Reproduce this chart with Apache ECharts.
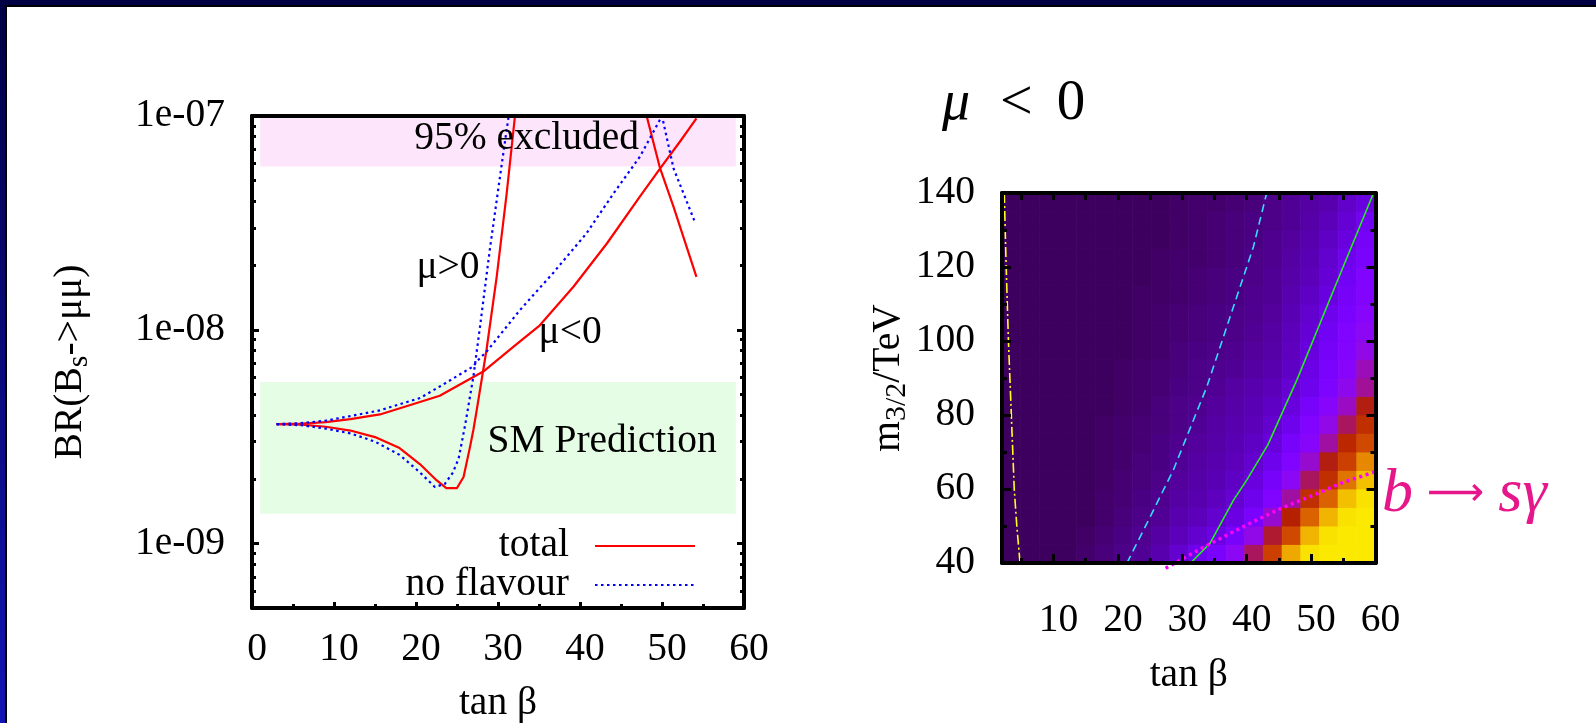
<!DOCTYPE html>
<html><head><meta charset="utf-8">
<script src="https://cdn.jsdelivr.net/npm/echarts@6/dist/echarts.min.js"></script>
<style>html,body{margin:0;padding:0;background:#fff;overflow:hidden}#c{width:1596px;height:723px}</style>
</head><body><div id="c"></div>
<script>
// ---------------- Left panel: BR(Bs->mumu) vs tan beta ----------------
const totalNegTanb = [3, 6, 9, 12, 15.6, 19.7, 22.9, 28.2, 31.9, 35.1, 39.2, 43.3, 47.3, 49.8, 52.2, 54.2];
const totalNegBR   = [3.62e-9, 3.64e-9, 3.7e-9, 3.82e-9, 4.02e-9, 4.5e-9, 4.92e-9, 6.38e-9, 8.35e-9, 1.05e-8, 1.59e-8, 2.54e-8, 4.2e-8, 5.7e-8, 7.6e-8, 9.75e-8];
const totalPosTanb = [3, 6, 9, 12, 15, 18, 20.5, 22.5, 23.7, 25, 25.8, 26.6, 27.0, 27.4, 28.6, 29.84, 31.06, 32.07, 32.5];
const totalPosBR   = [3.62e-9, 3.6e-9, 3.52e-9, 3.38e-9, 3.15e-9, 2.8e-9, 2.35e-9, 1.98e-9, 1.82e-9, 1.82e-9, 2.05e-9, 2.85e-9, 3.41e-9, 4.2e-9, 8.07e-9, 1.77e-8, 4.35e-8, 1.0e-7, 1.3e-7];
const totalHighTanb = [47.8, 49.76, 51.4, 54.2];
const totalHighBR   = [1.12e-7, 5.7e-8, 3.77e-8, 1.77e-8];
const noflavNegTanb = [3, 6, 9, 12, 15.6, 20.5, 22.9, 27, 27.4, 28.6, 32.7, 36.7, 40.8, 44.1, 47.3, 50, 51.4, 54];
const noflavNegBR   = [3.62e-9, 3.66e-9, 3.76e-9, 3.95e-9, 4.2e-9, 4.8e-9, 5.43e-9, 6.75e-9, 7.1e-9, 7.9e-9, 1.24e-8, 1.84e-8, 2.83e-8, 4.35e-8, 6.45e-8, 1.0e-7, 5.7e-8, 3.2e-8];
const noflavPosTanb = [3, 6, 9, 12, 15, 18, 20.5, 22.3, 23.5, 24.5, 25.2, 26.0, 27.0, 27.8, 29.0, 30.24, 31.3, 31.6];
const noflavPosBR   = [3.62e-9, 3.58e-9, 3.45e-9, 3.28e-9, 3.0e-9, 2.6e-9, 2.15e-9, 1.84e-9, 1.9e-9, 2.15e-9, 2.5e-9, 3.6e-9, 6.05e-9, 1.03e-8, 2.37e-8, 5.2e-8, 1.0e-7, 1.2e-7];
const bandTanb   = [1, 59];
const excludedBR = [5.8e-8, 1.0e-7];
const smBR       = [1.38e-9, 5.7e-9];
const leftXTicks = [0, 10, 20, 30, 40, 50, 60];
const leftXMinor = [5, 15, 25, 35, 45, 55];
const brMajor = [1e-9, 1e-8, 1e-7];
const brMinor = [6e-10, 7e-10, 8e-10, 9e-10, 2e-9, 3e-9, 4e-9, 5e-9, 6e-9, 7e-9, 8e-9, 9e-9, 2e-8, 3e-8, 4e-8, 5e-8, 6e-8, 7e-8, 8e-8, 9e-8];

// ---------------- Right panel: heat map m3/2 vs tan beta (mu<0) ----------------
const tanbCenters = [3.45, 6.35, 9.25, 12.15, 15.05, 17.95, 20.85, 23.75, 26.65, 29.55, 32.45, 35.35, 38.25, 41.15, 44.05, 46.95, 49.85, 52.75, 55.65, 58.55];
const m32Centers = [42.5, 47.5, 52.5, 57.5, 62.5, 67.5, 72.5, 77.5, 82.5, 87.5, 92.5, 97.5, 102.5, 107.5, 112.5, 117.5, 122.5, 127.5, 132.5, 137.5];
const heatRow00 = [6,6,6,6,7,8,9,10,12,15, 19,23,30,44,63,87,96,97,97,97];
const heatRow01 = [6,6,6,6,6.5,7.5,8.5,9.5,11,13, 15,17.5,22,32,47,66,89,96,97,97];
const heatRow02 = [6,6,6,6,6,7,8,9,10,12, 13,15,17.5,23,35,50,73,89,96,97];
const heatRow03 = [6,6,6,6,6,7,7.5,8.5,9.5,11, 12,13.5,15.5,19,25,39,57,73,91,96];
const heatRow04 = [6,6,6,6,6,6.5,7.5,8,9,10.5, 11.5,12.5,14,17,22,30,44,57,77,91];
const heatRow05 = [6,6,6,6,6,6.5,7,8,8.5,10, 11,12,13,15,19,25,35,49,63,81];
const heatRow06 = [6,6,6,6,6,6.5,7,7.5,8.5,9.5, 10.5,11.5,12.5,14,16.5,22,28,39,54,66];
const heatRow07 = [6,6,6,6,6,6.5,7,7.5,8,9, 10,11,12,13,15,19,25,32,44,57];
const heatRow08 = [6,6,6,6,6,6,6.5,7,8,9, 9.5,10.5,11.5,12.5,14,17,22,28,36,49];
const heatRow09 = [6,6,6,6,6,6,6.5,7,7.5,8.5, 9,10,11,12,13,15.5,19,24,31,40];
const heatRow10 = [6,6,6,6,6,6,6.5,7,7.5,8, 9,9.5,10,11,12,14,18,23,28,37];
const heatRow11 = [6,6,6,6,6,6,6,6.5,7,8, 8.5,9,9.5,10.5,11.5,13.5,17,21.5,26,32];
const heatRow12 = [6,6,6,6,6,6,6,6.5,7,7.5, 8,8.5,9,10,11,13,16,20,25,30];
const heatRow13 = [6,6,6,6,6,6,6,6.5,7,7.5, 8,8.5,9,9.5,10.5,12.5,15,19,23,28];
const heatRow14 = [6,6,6,6,6,6,6,6.5,6.5,7, 7.5,8,8.5,9.5,10,12,14,17,21.5,26];
const heatRow15 = [6,6,6,6,6,6,6,6,6.5,7, 7.5,8,8.5,9,10,11.5,13,16,20,25];
const heatRow16 = [6,6,6,6,6,6,6,6,6.5,7, 7,7.5,8,9,9.5,11,12.5,15,19,23];
const heatRow17 = [6,6,6,6,6,6,6,6,6,6.5, 7,7.5,8,8.5,9.5,10.5,12,14,17,21.5];
const heatRow18 = [6,6,6,6,6,6,6,6,6,6.5, 7,7.5,8,8.5,9,10,11.5,13,15.5,20];
const heatRow19 = [6,6,6,6,6,6,6,6,6,6.5, 7,7,7.5,8,9,10,11,12,14.5,17];
const heatRows = [heatRow00, heatRow01, heatRow02, heatRow03, heatRow04, heatRow05, heatRow06, heatRow07, heatRow08, heatRow09,
                  heatRow10, heatRow11, heatRow12, heatRow13, heatRow14, heatRow15, heatRow16, heatRow17, heatRow18, heatRow19];
const yellowTanb = [2.35, 2.65, 3.0, 3.45, 3.9, 4.3, 4.8];
const yellowM32  = [140, 120, 100, 80, 60, 50, 40];
const cyanTanb = [21.4, 24.5, 28.6, 33.8, 37.95, 41.05, 43.1];
const cyanM32  = [40, 50.7, 65.1, 87.6, 109.3, 125.5, 140];
const greenTanb = [31.3, 34.3, 37.95, 40, 43.3, 47.8, 53.5, 59.7];
const greenM32  = [40, 45.3, 57, 62.4, 72, 89.5, 113.8, 140];
const bsgTanb = [27.4, 30.2, 35, 40, 45, 50.4, 55, 61.2];
const bsgM32  = [38.6, 41.3, 45.8, 50.3, 54.5, 58.4, 61.8, 65.4];
const rightXTicks = [10, 20, 30, 40, 50, 60];
const rightXMinor = [5, 15, 25, 35, 45, 55];
const rightYTicks = [40, 60, 80, 100, 120, 140];
const rightYMinor = [50, 70, 90, 110, 130];

// ---------------- build ----------------
const F = "'Liberation Serif', 'Times New Roman', serif";
const FS = 39.5;
const zip = (xs, ys) => xs.map((x, i) => [x, ys[i]]);
function gp(p) { // gnuplot default pm3d palette (rgbformulae 7,5,15)
  const r = Math.round(255 * Math.sqrt(p)), g = Math.round(255 * p * p * p), b = Math.round(255 * Math.max(0, Math.sin(2 * Math.PI * p)));
  return 'rgb(' + r + ',' + g + ',' + b + ')';
}
const palette = []; for (let i = 0; i <= 40; i++) palette.push(gp(i / 40));
const heatData = [];
heatRows.forEach((row, j) => row.forEach((v, i) => heatData.push([tanbCenters[i], m32Centers[j], v])));
const cellW = tanbCenters[1] - tanbCenters[0], cellH = m32Centers[1] - m32Centers[0];
const fmtExp = v => { const e = Math.round(Math.log10(v)); return '1e-' + String(-e).padStart(2, '0'); };

const black = '#000';
const lineOn = { show: true, onZero: false, lineStyle: { color: black, width: 4 } };
const lineOff = { show: false, onZero: false };
const tick = (vals, len) => ({ show: true, inside: true, length: len, customValues: vals, lineStyle: { color: black, width: 3 } });
const noLabel = { show: false };
const labelStyle = { color: black, fontFamily: F, fontSize: FS, fontWeight: 'normal' };
const subRich = { a: { fontFamily: F, fontSize: FS, color: black }, s: { fontFamily: F, fontSize: 30, color: black, padding: [17, 0, 0, 0] } };

const red = '#ff0000', blue = '#0000ff', pink = '#e6178a';
function curve(name, xs, ys, color, dotted) {
  return { type: 'line', name, xAxisIndex: 0, yAxisIndex: 0, data: zip(xs, ys), symbol: 'none', showSymbol: false,
    clip: true, silent: true, z: 3, itemStyle: { color },
    lineStyle: { color, width: 2.2, type: dotted ? [2.5, 3.5] : 'solid', cap: 'butt', join: 'round' } };
}
const legendBase = { orient: 'vertical', align: 'right', right: 900, padding: 0, itemWidth: 100, itemHeight: 40,
  selectedMode: false, itemStyle: { opacity: 0 }, textStyle: { color: black, fontFamily: F, fontSize: FS, padding: [0, 21, 0, 0] } };

const option = {
  animation: false,
  textStyle: { fontFamily: F },
  title: { text: '{i|μ}{g|<}{h|0}', left: 942, top: 75, padding: 0,
    textStyle: { fontWeight: 'normal', rich: {
      i: { fontFamily: F, fontSize: 56, fontStyle: 'italic', fontWeight: 'normal', color: black },
      g: { fontFamily: F, fontSize: 58, fontWeight: 'normal', color: black, padding: [0, 0, 0, 30] },
      h: { fontFamily: F, fontSize: 57, fontWeight: 'normal', color: black, padding: [0, 0, 0, 24] } } } },
  graphic: [
    { type: 'rect', shape: { x: 0, y: 0, width: 1596, height: 5 }, style: { fill: '#000044' }, z: 100 },
    { type: 'rect', shape: { x: 0, y: 5, width: 1596, height: 2 }, style: { fill: '#000' }, z: 100 },
    { type: 'rect', shape: { x: 0, y: 0, width: 5, height: 723 }, z: 100,
      style: { fill: new echarts.graphic.LinearGradient(0, 0, 0, 1, [{ offset: 0, color: '#000044' }, { offset: 1, color: '#1414b4' }]) } },
    { type: 'rect', shape: { x: 5, y: 5, width: 2, height: 718 }, style: { fill: '#000' }, z: 100 }
  ],
  grid: [
    { left: 252, top: 116, width: 492, height: 492, outerBoundsMode: 'none' },
    { left: 1002, top: 193, width: 373.5, height: 370, outerBoundsMode: 'none' }
  ],
  legend: [
    Object.assign({ data: ['total'], top: 526 }, legendBase),
    Object.assign({ data: ['no flavour'], top: 565 }, legendBase)
  ],
  visualMap: { type: 'continuous', show: false, min: 0, max: 100, dimension: 2, seriesIndex: 5, inRange: { color: palette } },
  xAxis: [
    { type: 'value', gridIndex: 0, min: 0, max: 60, position: 'bottom', z: 5, axisLine: lineOn, splitLine: { show: false },
      axisTick: tick(leftXTicks, 6), axisLabel: Object.assign({ customValues: leftXTicks, margin: 22, padding: [0, 0, 0, 10] }, labelStyle),
      name: 'tan β', nameLocation: 'middle', nameGap: 76, nameTextStyle: labelStyle },
    { type: 'value', gridIndex: 0, min: 0, max: 60, position: 'bottom', z: 5, axisLine: lineOff, splitLine: { show: false },
      axisTick: tick(leftXMinor, 4), axisLabel: noLabel },
    { type: 'value', gridIndex: 1, min: 2, max: 60, position: 'bottom', z: 5, axisLine: lineOn, splitLine: { show: false },
      axisTick: tick(rightXTicks, 9), axisLabel: Object.assign({ customValues: rightXTicks, margin: 38, padding: [0, 0, 0, 10] }, labelStyle),
      name: 'tan β', nameLocation: 'middle', nameGap: 93, nameTextStyle: labelStyle },
    { type: 'value', gridIndex: 1, min: 2, max: 60, position: 'bottom', z: 5, axisLine: lineOff, splitLine: { show: false },
      axisTick: tick(rightXMinor, 5), axisLabel: noLabel },
    { type: 'value', gridIndex: 1, min: 2, max: 60, position: 'top', z: 5, axisLine: lineOn, splitLine: { show: false },
      axisTick: tick(rightXTicks, 7), axisLabel: noLabel },
    { type: 'value', gridIndex: 1, min: 2, max: 60, position: 'top', z: 5, axisLine: lineOff, splitLine: { show: false },
      axisTick: tick(rightXMinor, 7), axisLabel: noLabel },
    { type: 'value', gridIndex: 0, min: 0, max: 60, position: 'top', z: 5, axisLine: lineOn, splitLine: { show: false },
      axisTick: { show: false }, axisLabel: noLabel }
  ],
  yAxis: [
    { type: 'log', logBase: 10, gridIndex: 0, min: 5e-10, max: 1e-7, position: 'left', z: 5, axisLine: lineOn, splitLine: { show: false },
      minorTick: { show: false }, axisTick: tick(brMajor, 7),
      axisLabel: Object.assign({ customValues: brMajor, formatter: fmtExp, margin: 27 }, labelStyle),
      name: '{a|BR(B}{s|s}{a|->μμ)}', nameLocation: 'middle', nameGap: 158,
      nameTextStyle: { color: black, fontFamily: F, fontSize: FS, rich: subRich } },
    { type: 'log', logBase: 10, gridIndex: 0, min: 5e-10, max: 1e-7, position: 'left', z: 5, axisLine: lineOff, splitLine: { show: false },
      minorTick: { show: false }, axisTick: tick(brMinor, 4), axisLabel: noLabel },
    { type: 'log', logBase: 10, gridIndex: 0, min: 5e-10, max: 1e-7, position: 'right', z: 5, axisLine: lineOn, splitLine: { show: false },
      minorTick: { show: false }, axisTick: tick(brMajor, 7), axisLabel: noLabel },
    { type: 'log', logBase: 10, gridIndex: 0, min: 5e-10, max: 1e-7, position: 'right', z: 5, axisLine: lineOff, splitLine: { show: false },
      minorTick: { show: false }, axisTick: tick(brMinor, 4), axisLabel: noLabel },
    { type: 'value', gridIndex: 1, min: 40, max: 140, position: 'left', z: 5, axisLine: lineOn, splitLine: { show: false },
      axisTick: tick(rightYTicks, 9), axisLabel: Object.assign({ customValues: rightYTicks, margin: 27 }, labelStyle),
      name: '{a|m}{s|3/2}{a|/TeV}', nameLocation: 'middle', nameGap: 80,
      nameTextStyle: { color: black, fontFamily: F, fontSize: FS, rich: subRich } },
    { type: 'value', gridIndex: 1, min: 40, max: 140, position: 'left', z: 5, axisLine: lineOff, splitLine: { show: false },
      axisTick: tick(rightYMinor, 5), axisLabel: noLabel },
    { type: 'value', gridIndex: 1, min: 40, max: 140, position: 'right', z: 5, axisLine: lineOn, splitLine: { show: false },
      axisTick: tick(rightYTicks, 9), axisLabel: noLabel },
    { type: 'value', gridIndex: 1, min: 40, max: 140, position: 'right', z: 5, axisLine: lineOff, splitLine: { show: false },
      axisTick: tick(rightYMinor, 5), axisLabel: noLabel }
  ],
  series: [
    Object.assign(curve('total', totalNegTanb, totalNegBR, red, false), {
      markArea: { silent: true, z: 1, itemStyle: { borderWidth: 0 },
        data: [
          [{ xAxis: bandTanb[0], yAxis: excludedBR[0], itemStyle: { color: '#fde6fc' } }, { xAxis: bandTanb[1], yAxis: excludedBR[1] }],
          [{ xAxis: bandTanb[0], yAxis: smBR[0], itemStyle: { color: '#e5fce5' } }, { xAxis: bandTanb[1], yAxis: smBR[1] }]
        ] },
      markPoint: { silent: true, symbol: 'circle', symbolSize: 0, z: 4,
        label: { show: true, position: 'inside', formatter: '{b}', color: black, fontFamily: F, fontSize: FS },
        data: [
          { name: '95% excluded', coord: [33.5, 7.8e-8] },
          { name: 'μ>0', coord: [23.9, 1.96e-8] },
          { name: 'μ<0', coord: [38.8, 9.75e-9] },
          { name: 'SM Prediction', coord: [42.7, 3.0e-9] }
        ] } }),
    curve('total', totalPosTanb, totalPosBR, red, false),
    curve('total', totalHighTanb, totalHighBR, red, false),
    curve('no flavour', noflavNegTanb, noflavNegBR, blue, true),
    curve('no flavour', noflavPosTanb, noflavPosBR, blue, true),
    { type: 'custom', name: 'heat', xAxisIndex: 2, yAxisIndex: 4, data: heatData, z: 1, silent: true, clip: true,
      encode: { x: 0, y: 1 },
      renderItem: (params, api) => {
        const x = api.value(0), y = api.value(1);
        const a = api.coord([x - cellW / 2, y + cellH / 2]), b = api.coord([x + cellW / 2, y - cellH / 2]);
        const c = api.visual('color');
        return { type: 'rect', shape: { x: a[0], y: a[1], width: b[0] - a[0], height: b[1] - a[1] },
                 style: { fill: c, stroke: c, lineWidth: 0.8 } };
      } },
    { type: 'line', xAxisIndex: 2, yAxisIndex: 4, data: zip(yellowTanb, yellowM32), symbol: 'none', silent: true, z: 3,
      lineStyle: { color: '#ffff22', width: 1.6, type: [10, 3, 2, 3] } },
    { type: 'line', xAxisIndex: 2, yAxisIndex: 4, data: zip(cyanTanb, cyanM32), symbol: 'none', silent: true, z: 3,
      lineStyle: { color: '#33ddff', width: 1.6, type: [8, 5] } },
    { type: 'line', xAxisIndex: 2, yAxisIndex: 4, data: zip(greenTanb, greenM32), symbol: 'none', silent: true, z: 3,
      lineStyle: { color: '#22ee22', width: 1.6 } },
    { type: 'line', xAxisIndex: 2, yAxisIndex: 4, data: zip(bsgTanb, bsgM32), symbol: 'none', silent: true, z: 4, clip: false,
      lineStyle: { color: '#ff00ff', width: 3.5, type: [3, 3.7], cap: 'butt' },
      endLabel: { show: true, distance: 4, offset: [0, 24], formatter: '{i|b}{a|⟶}{j|sγ}', color: pink, fontFamily: F, fontSize: 58,
        rich: { i: { fontFamily: F, fontSize: 62, fontStyle: 'italic', color: pink },
                j: { fontFamily: F, fontSize: 62, fontStyle: 'italic', color: pink, padding: [0, 0, 0, 14] },
                a: { fontFamily: "'DejaVu Sans', sans-serif", fontSize: 40, color: pink, padding: [0, 0, 0, 14] } } } }
  ]
};
const chart = echarts.init(document.getElementById('c'), null, { renderer: 'canvas', width: 1596, height: 723 });
chart.setOption(option);
</script>
</body></html>
